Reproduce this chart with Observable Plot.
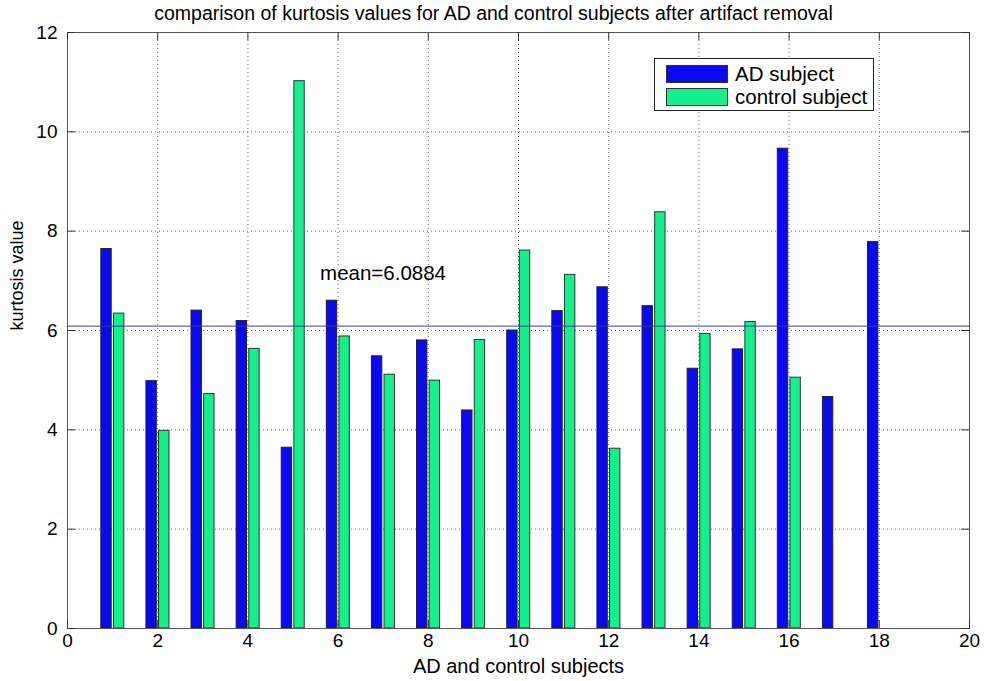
<!DOCTYPE html>
<html>
<head>
<meta charset="utf-8">
<script src="https://cdn.jsdelivr.net/npm/d3@7"></script>
<script src="https://cdn.jsdelivr.net/npm/@observablehq/plot@0.6"></script>
<style>
  html, body { margin: 0; padding: 0; background: #fff; }
  #wrap { position: relative; width: 985px; height: 681px; font-family: "Liberation Sans", Arial, sans-serif; }
  #wrap svg { overflow: visible; }
  #legend { position: absolute; left: 654px; top: 58px; width: 220px; height: 53px; border: 1px solid #222; background: #fff; box-sizing: border-box; }
  .li { position: absolute; left: 11px; display: flex; align-items: center; }
  .sw { width: 62px; height: 18px; border: 1px solid #333; box-sizing: border-box; }
  .lt { margin-left: 7px; font-size: 20.5px; color: #000; line-height: 20px; }
</style>
</head>
<body>
<div id="wrap"></div>
<script>
const subjects = [1,2,3,4,5,6,7,8,9,10,11,12,13,14,15,16,17,18];
const adValues = [7.64,4.98,6.40,6.19,3.64,6.60,5.48,5.80,4.39,6.00,6.39,6.87,6.49,5.23,5.62,9.66,4.66,7.78];
const controlValues = [6.34,3.98,4.72,5.63,11.02,5.88,5.11,4.99,5.81,7.61,7.12,3.62,8.38,5.93,6.17,5.05,null,null];
const meanValue = 6.0884;
const xTicks = [0,2,4,6,8,10,12,14,16,18,20];
const yTicks = [0,2,4,6,8,10,12];
const seriesNames = ["AD subject", "control subject"];
const seriesColors = ["#0a0af0", "#14f08a"];
const titleText = "comparison of kurtosis values for AD and control subjects after artifact removal";
const xLabel = "AD and control subjects";
const yLabel = "kurtosis value";

const ad = subjects.map((s, i) => ({subject: s, value: adValues[i]}));
const ctl = subjects.map((s, i) => ({subject: s, value: controlValues[i]})).filter(d => d.value != null);

const W = 985, H = 681, mL = 67, mR = 16, mT = 32, mB = 53;
const innerW = W - mL - mR, innerH = H - mT - mB, tk = 8;
const font = "Liberation Sans, Arial, sans-serif";

const chart = Plot.plot({
  width: W, height: H,
  marginLeft: mL, marginRight: mR, marginTop: mT, marginBottom: mB,
  style: {fontFamily: font, background: "#fff", color: "#000"},
  x: {domain: [0, 20], ticks: xTicks, label: null},
  y: {domain: [0, 12], ticks: yTicks, label: null},
  marks: [
    // grid
    Plot.ruleX(xTicks.slice(1, -1), {x: d => d, stroke: "#444", strokeDasharray: "1,3", strokeOpacity: 0.8}),
    Plot.ruleY(yTicks.slice(1, -1), {y: d => d, stroke: "#444", strokeDasharray: "1,3", strokeOpacity: 0.8}),
    // bars
    Plot.rectY(ad, {x1: d => d.subject - 0.25, x2: d => d.subject - 0.02, y1: 0, y2: "value", fill: seriesColors[0], stroke: "#222", strokeWidth: 1}),
    Plot.rectY(ctl, {x1: d => d.subject + 0.03, x2: d => d.subject + 0.26, y1: 0, y2: "value", fill: seriesColors[1], stroke: "#333", strokeWidth: 1}),
    // mean line
    Plot.ruleY([meanValue], {stroke: "#3a3a9a", strokeWidth: 1}),
    Plot.text([meanValue], {x: 5.6, y: 7.15, text: d => "mean=" + d, textAnchor: "start", fontSize: 20.5, fill: "#000"}),
    // frame
    Plot.frame({stroke: "#555", strokeWidth: 1}),
    // inward ticks
    Plot.tickX(xTicks, {x: d => d, insetTop: innerH - tk, stroke: "#333"}),
    Plot.tickX(xTicks, {x: d => d, insetBottom: innerH - tk, stroke: "#333"}),
    Plot.tickY(yTicks, {y: d => d, insetRight: innerW - tk, stroke: "#333"}),
    Plot.tickY(yTicks, {y: d => d, insetLeft: innerW - tk, stroke: "#333"}),
    // axes
    Plot.axisX(xTicks, {tickSize: 0, tickPadding: 5, fontSize: 19, label: null, tickFormat: d => String(d)}),
    Plot.axisY(yTicks, {tickSize: 0, tickPadding: 10, fontSize: 19, label: null, tickFormat: d => String(d)}),
    // title and axis labels
    Plot.text([titleText], {frameAnchor: "top", lineAnchor: "middle", dx: -25, dy: -19, fontSize: 19.5, text: d => d}),
    Plot.text([xLabel], {frameAnchor: "bottom", lineAnchor: "middle", dy: 38, fontSize: 20, text: d => d}),
    Plot.text([yLabel], {frameAnchor: "left", lineAnchor: "middle", dx: -50, rotate: -90, fontSize: 18, text: d => d})
  ]
});

const wrap = document.getElementById("wrap");
wrap.appendChild(chart);
const legend = document.createElement("div");
legend.id = "legend";
seriesNames.forEach((name, i) => {
  const item = document.createElement("div");
  item.className = "li";
  item.style.top = (i === 0 ? 5 : 28) + "px";
  const sw = document.createElement("div");
  sw.className = "sw";
  sw.style.background = seriesColors[i];
  const t = document.createElement("span");
  t.className = "lt";
  t.textContent = name;
  item.appendChild(sw); item.appendChild(t);
  legend.appendChild(item);
});
wrap.appendChild(legend);
</script>
</body>
</html>
